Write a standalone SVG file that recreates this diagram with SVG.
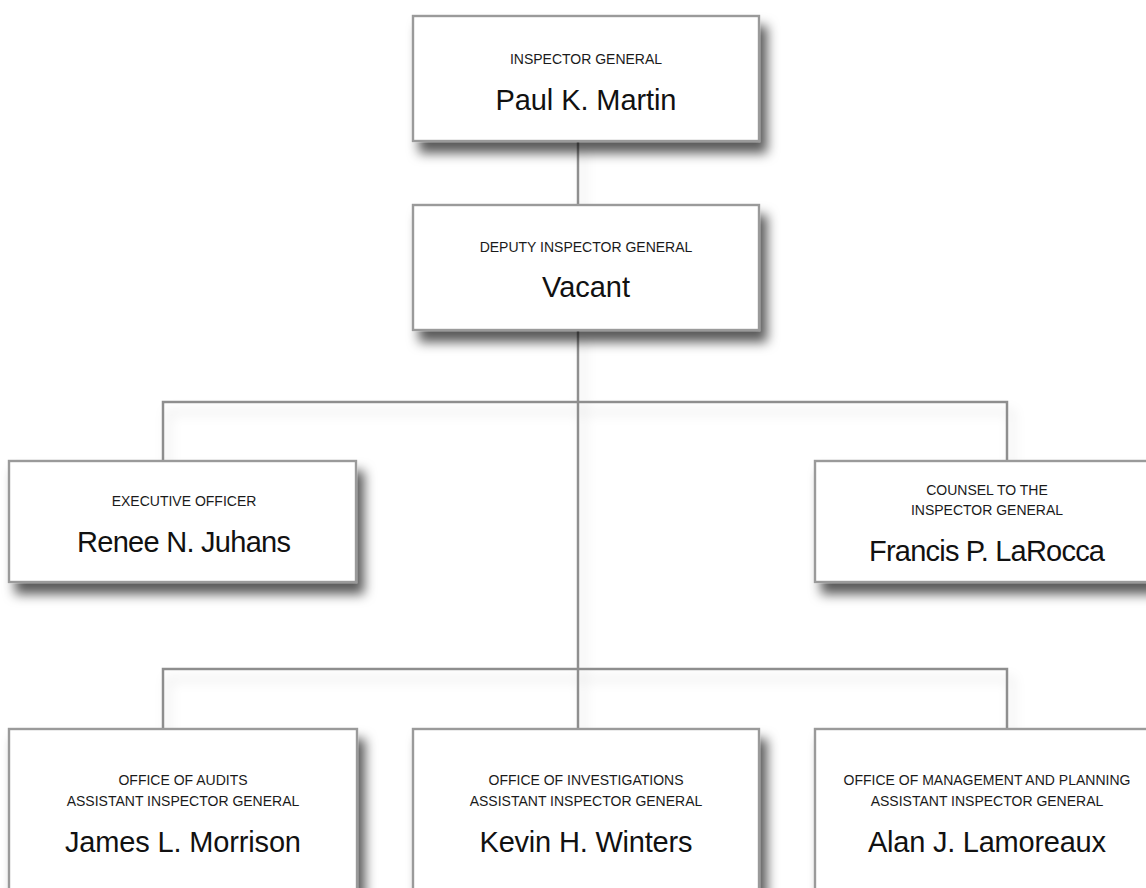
<svg xmlns="http://www.w3.org/2000/svg" width="1146" height="888" viewBox="0 0 1146 888">
  <defs>
    <filter id="boxShadow" x="-10%" y="-20%" width="130%" height="170%">
      <feDropShadow dx="7" dy="11" stdDeviation="6" flood-color="#000" flood-opacity="0.65"/>
    </filter>
    <filter id="lineShadow" x="-10%" y="-50%" width="130%" height="300%">
      <feDropShadow dx="5" dy="10" stdDeviation="6" flood-color="#000" flood-opacity="0.14"/>
    </filter>
  </defs>
  <style>
    .box { fill: #ffffff; stroke: #9a9a9a; stroke-width: 2.4; filter: url(#boxShadow); }
    .conn { fill: none; stroke: #8e8e8e; stroke-width: 2.5; }
    .lbl { font-family: "Liberation Sans", Arial, sans-serif; font-size: 14px; fill: #1a1a1a; text-anchor: middle; }
    .name { font-family: "Liberation Sans", Arial, sans-serif; font-size: 29px; fill: #111111; text-anchor: middle; }
  </style>
  <rect width="1146" height="888" fill="#ffffff"/>

  <g id="connectors" filter="url(#lineShadow)">
    <path class="conn" d="M578 141 V205"/>
    <path class="conn" d="M578 330 V729"/>
    <path class="conn" d="M163 461 V402 H1007 V461"/>
    <path class="conn" d="M163 729 V669 H1007 V729"/>
  </g>

  <g id="inspector-general">
    <rect class="box" x="413" y="16" width="346" height="125"/>
    <text class="lbl" x="586" y="64">INSPECTOR GENERAL</text>
    <text class="name" x="586" y="110" textLength="181">Paul K. Martin</text>
  </g>

  <g id="deputy-inspector-general">
    <rect class="box" x="413" y="205" width="346" height="125"/>
    <text class="lbl" x="586" y="252">DEPUTY INSPECTOR GENERAL</text>
    <text class="name" x="586" y="297" textLength="88">Vacant</text>
  </g>

  <g id="executive-officer">
    <rect class="box" x="9" y="461" width="347" height="121"/>
    <text class="lbl" x="184" y="506">EXECUTIVE OFFICER</text>
    <text class="name" x="184" y="552" textLength="214">Renee N. Juhans</text>
  </g>

  <g id="counsel">
    <rect class="box" x="815" y="461" width="345" height="121"/>
    <text class="lbl" x="987" y="495">COUNSEL TO THE</text>
    <text class="lbl" x="987" y="515">INSPECTOR GENERAL</text>
    <text class="name" x="987" y="561" textLength="236">Francis P. LaRocca</text>
  </g>

  <g id="office-of-audits">
    <rect class="box" x="9" y="729" width="348" height="180"/>
    <text class="lbl" x="183" y="785">OFFICE OF AUDITS</text>
    <text class="lbl" x="183" y="806">ASSISTANT INSPECTOR GENERAL</text>
    <text class="name" x="183" y="852" textLength="236">James L. Morrison</text>
  </g>

  <g id="office-of-investigations">
    <rect class="box" x="413" y="729" width="346" height="180"/>
    <text class="lbl" x="586" y="785">OFFICE OF INVESTIGATIONS</text>
    <text class="lbl" x="586" y="806">ASSISTANT INSPECTOR GENERAL</text>
    <text class="name" x="586" y="852" textLength="213">Kevin H. Winters</text>
  </g>

  <g id="office-of-management">
    <rect class="box" x="815" y="729" width="345" height="180"/>
    <text class="lbl" x="987" y="785">OFFICE OF MANAGEMENT AND PLANNING</text>
    <text class="lbl" x="987" y="806">ASSISTANT INSPECTOR GENERAL</text>
    <text class="name" x="987" y="852" textLength="238">Alan J. Lamoreaux</text>
  </g>
</svg>
